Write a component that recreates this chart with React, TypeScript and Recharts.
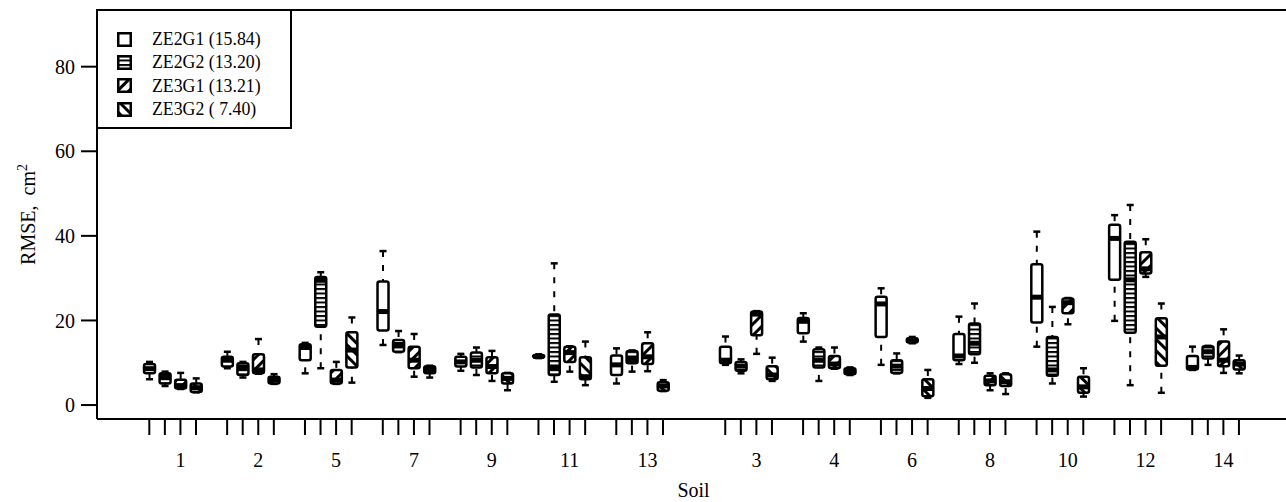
import React from 'react';
import { ComposedChart, Bar, XAxis, YAxis, ReferenceLine } from 'recharts';

const soils = ['1', '2', '5', '7', '9', '11', '13', '3', '4', '6', '8', '10', '12', '14'];
const seriesNames = ['ZE2G1 (15.84)', 'ZE2G2 (13.20)', 'ZE3G1 (13.21)', 'ZE3G2 ( 7.40)'];

// [lower whisker, Q1, median, Q3, upper whisker] per soil, in soil order above
const ze2g1 = [
  [6.1, 7.5, 8.6, 9.7, 10.2], [8.7, 9.1, 10.6, 11.4, 12.6], [7.5, 10.6, 13.6, 14.4, 14.7],
  [14.2, 17.6, 22.1, 29.2, 36.4], [8.1, 9.1, 10.2, 11.4, 12.1], [11.1, 11.3, 11.5, 11.8, 12.0],
  [5.1, 7.1, 9.5, 11.7, 13.4], [9.5, 9.9, 10.6, 13.8, 16.2], [15.0, 17.0, 19.8, 20.6, 21.7],
  [9.5, 16.1, 23.9, 25.6, 27.6], [9.7, 10.6, 11.6, 16.8, 20.9], [13.8, 19.5, 25.5, 33.3, 41.0],
  [19.9, 29.6, 39.4, 42.6, 44.9], [8.3, 8.4, 8.9, 11.6, 13.8],
];
const ze2g2 = [
  [4.5, 5.1, 6.5, 7.5, 7.9], [6.5, 7.1, 8.7, 9.9, 10.2], [8.7, 18.5, 29.5, 30.3, 31.4],
  [12.5, 12.6, 14.2, 15.4, 17.5], [7.1, 8.9, 10.6, 12.4, 13.6], [5.5, 7.1, 8.7, 21.4, 33.5],
  [7.9, 9.9, 10.9, 12.8, 12.9], [7.5, 8.1, 9.2, 10.2, 10.8], [5.7, 8.9, 10.6, 13.2, 13.6],
  [7.5, 7.6, 9.2, 10.6, 12.2], [10.0, 12.0, 14.6, 19.3, 24.0], [5.1, 6.9, 8.3, 16.1, 23.2],
  [4.7, 17.1, 29.6, 38.6, 47.3], [9.5, 11.0, 12.6, 13.9, 14.0],
];
const ze3g1 = [
  [3.8, 3.9, 4.6, 6.0, 7.6], [7.4, 7.5, 8.3, 12.0, 15.6], [5.0, 5.1, 5.9, 8.3, 10.2],
  [6.7, 8.7, 10.6, 13.8, 16.8], [5.7, 7.5, 9.1, 11.3, 12.8], [7.9, 10.2, 12.4, 13.8, 13.9],
  [8.0, 9.7, 11.4, 14.6, 17.2], [12.1, 16.5, 21.5, 22.1, 22.2], [8.6, 8.7, 9.7, 11.6, 13.6],
  [14.6, 14.8, 15.3, 15.8, 16.1], [3.5, 4.7, 5.7, 6.9, 7.5], [19.1, 21.7, 24.2, 25.2, 25.3],
  [30.3, 31.1, 32.2, 36.1, 39.2], [7.6, 9.2, 10.6, 15.0, 17.9],
];
const ze3g2 = [
  [3.0, 3.1, 4.1, 5.1, 6.3], [5.0, 5.1, 5.9, 6.7, 7.3], [5.3, 8.9, 13.0, 17.2, 20.7],
  [6.5, 7.5, 8.4, 9.2, 9.3], [3.5, 5.1, 6.3, 7.5, 7.6], [4.7, 6.1, 6.7, 11.3, 15.0],
  [3.3, 3.4, 4.5, 5.4, 5.9], [5.7, 6.1, 7.1, 9.2, 11.2], [7.1, 7.3, 8.0, 8.7, 8.9],
  [1.7, 2.1, 3.9, 6.1, 8.3], [2.6, 4.5, 5.5, 7.3, 7.5], [2.0, 2.9, 4.3, 6.7, 8.7],
  [2.9, 9.3, 16.1, 20.5, 24.0], [7.5, 8.4, 9.7, 10.6, 11.7],
];
const yTicks = [0, 20, 40, 60, 80];

const series = [ze2g1, ze2g2, ze3g1, ze3g2];
// second half of the soils sits after a wider gap
const data = soils.flatMap((soil, g) =>
  series.map((arr, k) => {
    const [lo, q1, med, q3, hi] = arr[g];
    return { pos: g * 5 + (g >= 7 ? 2 : 0) + k, soil, k, lo, q1, med, q3, hi };
  })
);
const xTicks = data.map((d) => d.pos);
const labelAt = new Map(data.filter((d) => d.k === 2).map((d) => [d.pos, d.soil]));

const FONT = 'Liberation Serif';
const FILLS = ['#fff', 'url(#hl)', 'url(#dr)', 'url(#dl)'];

function Patterns({ p = '' }: { p?: string }) {
  return (
    <defs>
      <pattern id={p + 'hl'} patternUnits="userSpaceOnUse" width={8} height={4.5}>
        <rect width={8} height={4.5} fill="#fff" />
        <rect width={8} height={2} fill="#000" />
      </pattern>
      <pattern id={p + 'dr'} patternUnits="userSpaceOnUse" width={8} height={8} patternTransform="rotate(45)">
        <rect width={8} height={8} fill="#fff" />
        <rect width={3} height={8} fill="#000" />
      </pattern>
      <pattern id={p + 'dl'} patternUnits="userSpaceOnUse" width={8} height={8} patternTransform="rotate(-45)">
        <rect width={8} height={8} fill="#fff" />
        <rect width={3} height={8} fill="#000" />
      </pattern>
    </defs>
  );
}

function BoxShape(props: any) {
  const { x, y, width, height, payload } = props;
  const { lo, q1, med, q3, hi, k } = payload;
  const top = Math.min(y, y + height);
  const ppu = Math.abs(height) / (hi - lo);
  const Y = (v: number) => top + (hi - v) * ppu;
  const cx = x + width / 2;
  const hw = 5.5;
  return (
    <g>
      <line x1={cx} x2={cx} y1={Y(hi)} y2={Y(q3)} stroke="#000" strokeWidth={2} strokeDasharray="6 8" />
      <line x1={cx} x2={cx} y1={Y(lo)} y2={Y(q1)} stroke="#000" strokeWidth={2} strokeDasharray="6 8" />
      <line x1={cx - 3.5} x2={cx + 3.5} y1={Y(hi)} y2={Y(hi)} stroke="#000" strokeWidth={2.5} />
      <line x1={cx - 3.5} x2={cx + 3.5} y1={Y(lo)} y2={Y(lo)} stroke="#000" strokeWidth={2.5} />
      <rect
        x={cx - hw}
        y={Y(q3)}
        width={hw * 2}
        height={Y(q1) - Y(q3)}
        fill={FILLS[k]}
        stroke="#000"
        strokeWidth={2.5}
        rx={2}
      />
      <line x1={cx - hw} x2={cx + hw} y1={Y(med)} y2={Y(med)} stroke="#000" strokeWidth={5} />
    </g>
  );
}

function YLabel(props: any) {
  const vb = props.viewBox || { x: 0, y: 10, width: 97, height: 409 };
  const cy = vb.y + vb.height / 2;
  return (
    <text transform={`translate(35, ${cy}) rotate(-90)`} textAnchor="middle" fontFamily={FONT} fontSize={20} fill="#000">
      RMSE,{'\u00A0'} cm<tspan dy={-8} fontSize={14}>2</tspan>
    </text>
  );
}

function SoilLabel(props: any) {
  const vb = props.viewBox || { x: 97, y: 419, width: 1193, height: 83 };
  return (
    <text x={vb.x + vb.width / 2} y={vb.y + 78} textAnchor="middle" fontFamily={FONT} fontSize={20} fill="#000">
      Soil
    </text>
  );
}

function LegendIcon({ k }: { k: number }) {
  const p = 'lg' + k;
  const fill = k === 0 ? '#fff' : `url(#${p}${['', 'hl', 'dr', 'dl'][k]})`;
  return (
    <svg width={15} height={15} style={{ display: 'block' }}>
      <Patterns p={p} />
      <rect x={1.25} y={1.25} width={12.5} height={12.5} fill={fill} stroke="#000" strokeWidth={2.5} />
    </svg>
  );
}

export default function App() {
  return (
    <div style={{ position: 'absolute', left: 0, top: 0, width: 1286, height: 502, overflow: 'hidden', background: '#fff' }}>
      <ComposedChart width={1290} height={502} data={data} margin={{ top: 10, right: 0, bottom: 0, left: 0 }}>
        <Patterns />
        <XAxis
          type="number"
          dataKey="pos"
          domain={[-3.36, 73.28]}
          ticks={xTicks}
          interval={0}
          tickFormatter={(v: number) => labelAt.get(v) ?? ''}
          tickSize={16}
          tickMargin={18}
          height={83}
          axisLine={{ stroke: '#000', strokeWidth: 2 }}
          tickLine={{ stroke: '#000', strokeWidth: 2 }}
          tick={{ fill: '#000', fontSize: 20, fontFamily: FONT }}
          label={<SoilLabel />}
        />
        <YAxis
          type="number"
          domain={[-3.3, 93.4]}
          ticks={yTicks}
          width={97}
          tickSize={16}
          tickMargin={6}
          axisLine={{ stroke: '#000', strokeWidth: 2 }}
          tickLine={{ stroke: '#000', strokeWidth: 2 }}
          tick={{ fill: '#000', fontSize: 20, fontFamily: FONT }}
          label={<YLabel />}
        />
        <ReferenceLine y={93.4} stroke="#000" strokeWidth={2} />
        <Bar
          dataKey={(d: any) => [d.lo, d.hi]}
          barSize={12}
          shape={BoxShape}
          isAnimationActive={false}
        />
      </ComposedChart>
      <div
        style={{
          position: 'absolute',
          left: 96,
          top: 9,
          width: 196,
          height: 120,
          boxSizing: 'border-box',
          border: '2px solid #000',
          background: '#fff',
          fontFamily: FONT,
          fontSize: 17.8,
        }}
      >
        {seriesNames.map((name, k) => (
          <div
            key={name}
            style={{ position: 'absolute', left: 19, top: 17 + k * 23.4, height: 22, display: 'flex', alignItems: 'center' }}
          >
            <LegendIcon k={k} />
            <span style={{ marginLeft: 20, whiteSpace: 'pre', lineHeight: '22px' }}>{name}</span>
          </div>
        ))}
      </div>
    </div>
  );
}
